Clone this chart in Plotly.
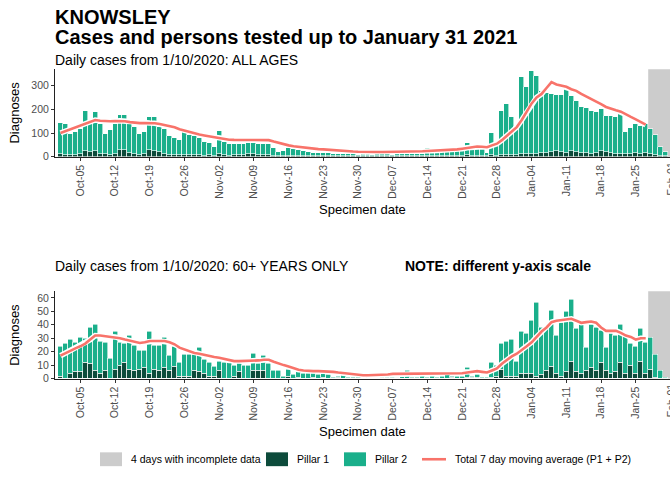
import pandas as pd
import plotly.graph_objects as go

# ---------------- data ----------------
dates = pd.date_range("2020-10-01", "2021-01-31", freq="D")

top_pillar1 = [10, 8, 6, 8, 10, 22, 20, 24, 12, 10,
               8, 12, 28, 26, 14, 12, 8, 10, 28, 24,
               18, 12, 8, 6, 5, 8, 6, 7, 5, 4,
               5, 3, 10, 5, 4, 6, 5, 8, 10, 9,
               8, 7, 6, 3, 2, 2, 4, 3, 3, 2,
               2, 1, 2, 2, 1, 1, 1, 1, 1, 1,
               1, 2, 1, 1, 2, 1, 2, 1, 1, 2,
               1, 1, 2, 1, 2, 1, 2, 2, 2, 3,
               3, 4, 5, 3, 4, 3, 2, 5, 4, 6,
               5, 7, 6, 9, 10, 12, 10, 14, 16, 20,
               22, 18, 15, 24, 20, 16, 14, 12, 15, 22,
               18, 14, 12, 13, 10, 12, 15, 12, 14, 10,
               6, 3, 1]
top_pillar2 = [132, 130, 91, 96, 105, 169, 116, 166, 124, 87,
               103, 126, 148, 150, 122, 112, 89, 94, 141, 142,
               106, 106, 78, 74, 64, 96, 84, 79, 75, 58,
               53, 38, 96, 57, 51, 47, 48, 47, 49, 49,
               45, 46, 47, 32, 19, 23, 31, 27, 25, 23,
               19, 13, 15, 15, 14, 11, 12, 9, 10, 8,
               7, 8, 8, 7, 8, 8, 9, 7, 9, 9,
               9, 11, 11, 11, 35, 16, 14, 17, 18, 15,
               21, 26, 51, 32, 35, 27, 12, 95, 51, 188,
               216, 159, 122, 326, 283, 350, 329, 261, 254, 245,
               240, 240, 285, 231, 215, 194, 193, 182, 172, 178,
               155, 159, 157, 165, 95, 110, 123, 116, 124, 105,
               84, 37, 19]
top_avg7 = [100, 108, 116, 122, 130, 140, 148, 155, 152, 150,
            150, 151, 152, 150, 146, 143, 142, 142, 142, 141,
            138, 134, 128, 124, 116, 110, 103, 98, 94, 90,
            86, 82, 79, 75, 72, 71, 71, 72, 73, 73,
            72, 71, 70, 64, 58, 52, 48, 44, 41, 38,
            36, 34, 32, 31, 30, 28, 26, 24, 23, 22,
            21, 20, 20, 20, 20, 20, 20, 20, 20, 21,
            21, 22, 22, 23, 24, 25, 26, 27, 28, 29,
            31, 34, 38, 41, 43, 42, 40, 48, 55, 70,
            88, 108, 125, 155, 190, 225, 250, 265, 290, 315,
            305, 300, 295, 285, 278, 265, 255, 243, 232, 222,
            210, 202, 196, 190, 178, 168, 158, 148, 135]

old_pillar1 = [2, 0, 4, 5, 5, 12, 11, 6, 4, 6,
               0, 7, 10, 12, 7, 6, 7, 8, 4, 7,
               6, 8, 6, 9, 2, 2, 2, 6, 5, 4,
               2, 2, 6, 0, 0, 2, 5, 0, 0, 6,
               6, 6, 0, 0, 0, 0, 2, 0, 1, 0,
               0, 1, 0, 1, 0, 0, 1, 0, 0, 0,
               0, 0, 0, 0, 0, 0, 0, 0, 1, 0,
               0, 0, 0, 0, 0, 0, 0, 0, 0, 1,
               0, 0, 1, 1, 1, 0, 0, 1, 2, 7,
               2, 2, 2, 4, 4, 4, 2, 3, 6, 9,
               4, 2, 5, 13, 5, 4, 6, 8, 6, 12,
               6, 4, 5, 12, 4, 10, 4, 13, 4, 7,
               1, 0, 0]
old_pillar2 = [22, 26, 25, 22, 26, 18, 27, 34, 24, 21,
               15, 28, 17, 14, 25, 19, 14, 13, 31, 18,
               19, 23, 11, 15, 10, 16, 16, 12, 18, 10,
               10, 7, 7, 12, 12, 8, 6, 10, 10, 13,
               5, 11, 11, 6, 6, 2, 5, 3, 4, 4,
               4, 3, 3, 4, 3, 1, 1, 3, 1, 1,
               1, 0, 1, 1, 0, 1, 1, 1, 0, 2,
               6, 1, 1, 2, 1, 2, 1, 2, 6, 1,
               2, 2, 7, 1, 2, 1, 1, 11, 8, 19,
               26, 27, 11, 31, 30, 39, 55, 35, 33, 42,
               28, 40, 45, 46, 32, 39, 17, 32, 32, 24,
               17, 30, 27, 28, 28, 16, 20, 24, 23, 24,
               17, 6, 1]
old_avg7 = [17, 19, 21, 22.5, 24, 26, 29, 32, 32, 31.5,
            31, 31, 30, 29, 28, 27, 26.5, 27, 28, 28,
            28, 28, 27, 25.5, 23, 21.5, 20.5, 19, 18.5, 17.5,
            17, 16, 15.5, 14.5, 13.5, 13, 13, 13, 13, 13,
            13.5, 14, 14, 12.5, 11, 10, 9, 7.5, 6.5, 6,
            5.5, 5.5, 5.5, 5.5, 5.5, 5, 4.5, 4, 3.5, 3,
            2.5, 2.5, 2.5, 2.5, 2.5, 3, 3, 3.5, 3.5, 3.5,
            3.5, 3.5, 3.5, 4, 4, 4, 4, 4, 4, 4,
            4, 4, 4.5, 5, 5.5, 5, 4.5, 6, 7.5, 11,
            14, 16.5, 18.5, 21, 24, 27, 31, 35, 38, 42,
            43, 43.5, 44, 44.5, 43, 41.5, 42, 42.5, 41.5, 38,
            35.5, 35.5, 35.5, 34, 32, 31, 29, 30, 30]

top_yticks = [0, 100, 200, 300]
old_yticks = [0, 10, 20, 30, 40, 50, 60]
incomplete_start = "2021-01-27 12:00"

# ---------------- style ----------------
FONT = "Liberation Sans, Arial, sans-serif"
C_P1 = "#0D4B3B"
C_P2 = "#1AAF8B"
C_AVG = "#F8736A"
C_GREY = "#CCCCCC"
TICK_C = "#4D4D4D"

W, H = 670, 485
L = 55

def py(px):
    return 1 - px / H

def pxx(px):
    return (px - L) / (W - L)

avg_dates = dates[:len(top_avg7)]

fig = go.Figure()

for (xa, ya, p1, p2, avg) in [("x", "y", top_pillar1, top_pillar2, top_avg7),
                              ("x2", "y2", old_pillar1, old_pillar2, old_avg7)]:
    fig.add_trace(go.Bar(x=dates, y=p1, xaxis=xa, yaxis=ya, marker_color=C_P1,
                         marker_line_color="white", marker_line_width=0.6,
                         showlegend=False, name="Pillar 1"))
    fig.add_trace(go.Bar(x=dates, y=p2, xaxis=xa, yaxis=ya, marker_color=C_P2,
                         marker_line_color="white", marker_line_width=0.6,
                         showlegend=False, name="Pillar 2"))
    fig.add_trace(go.Scatter(x=avg_dates, y=avg, xaxis=xa, yaxis=ya, mode="lines",
                             line=dict(color="white", width=5.5), showlegend=False,
                             hoverinfo="skip"))
    fig.add_trace(go.Scatter(x=avg_dates, y=avg, xaxis=xa, yaxis=ya, mode="lines",
                             line=dict(color=C_AVG, width=2.6), showlegend=False,
                             name="Total 7 day moving average (P1 + P2)"))

x_range = ["2020-09-29 21:30", "2021-01-31 21:30"]
xcommon = dict(type="date", range=x_range, tickformat="%b-%d", dtick=7 * 86400000,
               tick0="2020-10-05", tickangle=-90, ticks="outside", ticklen=3,
               tickcolor="#333333", showline=True, linecolor="#222222", linewidth=1,
               showgrid=False, zeroline=False,
               tickfont=dict(family=FONT, size=10.5, color=TICK_C))
ycommon = dict(ticks="outside", ticklen=3, tickcolor="#333333", showline=True,
               linecolor="#222222", linewidth=1, showgrid=False, zeroline=False,
               tickfont=dict(family=FONT, size=10.5, color=TICK_C), fixedrange=True)

fig.update_layout(
    width=W, height=H, autosize=False,
    margin=dict(l=L, r=0, t=0, b=0, pad=0),
    paper_bgcolor="white", plot_bgcolor="white",
    barmode="stack", bargap=0,
    font=dict(family=FONT, color="black"),
    xaxis=dict(domain=[0, 1], anchor="y", **xcommon),
    xaxis2=dict(domain=[0, 1], anchor="y2", **xcommon),
    yaxis=dict(domain=[py(158.7), py(70)], anchor="x", range=[0, 369.6],
               tickvals=top_yticks, **ycommon),
    yaxis2=dict(domain=[py(383.3), py(295)], anchor="x2", range=[0, 64.9],
                tickvals=old_yticks, **ycommon),
)

# incomplete-data shading
for xr, yr in [("x", "y"), ("x2", "y2")]:
    fig.add_shape(type="rect", xref=xr, yref=yr + " domain", x0=incomplete_start,
                  x1="2021-02-02", y0=0, y1=1, fillcolor=C_GREY, line_width=0,
                  layer="below")

ann = []
def text(x, y, s, size, bold=False, xanchor="left", yanchor="middle", angle=0, color="black"):
    ann.append(dict(xref="paper", yref="paper", x=x, y=y, text=("<b>%s</b>" % s) if bold else s,
                    showarrow=False, xanchor=xanchor, yanchor=yanchor, textangle=angle,
                    font=dict(family=FONT, size=size, color=color)))

text(pxx(53), py(17), "KNOWSLEY", 20, bold=True)
text(pxx(53), py(37), "Cases and persons tested up to January 31 2021", 20, bold=True)
text(pxx(53), py(61), "Daily cases from 1/10/2020: ALL AGES", 14)
text(pxx(53), py(269), "Daily cases from 1/10/2020: 60+ YEARS ONLY", 14)
text(pxx(403), py(269), "NOTE: different y-axis scale", 14, bold=True)
text(pxx(15), py(114), "Diagnoses", 13, xanchor="center", angle=-90)
text(pxx(15), py(339), "Diagnoses", 13, xanchor="center", angle=-90)
text(pxx(362), py(212), "Specimen date", 13, xanchor="center")
text(pxx(362), py(437), "Specimen date", 13, xanchor="center")
# partially visible last tick label (cut by the right edge, as in the reference)
text(pxx(671), py(163), "Feb-01", 10.5, xanchor="center", yanchor="top", angle=-90, color=TICK_C)
text(pxx(671), py(387.5), "Feb-01", 10.5, xanchor="center", yanchor="top", angle=-90, color=TICK_C)

# manual legend
ly0, ly1 = py(472), py(458)
fig.add_shape(type="rect", xref="paper", yref="paper", x0=pxx(100), x1=pxx(122), y0=ly0, y1=ly1,
              fillcolor=C_GREY, line_width=0)
fig.add_shape(type="rect", xref="paper", yref="paper", x0=pxx(266), x1=pxx(288), y0=ly0, y1=ly1,
              fillcolor=C_P1, line_width=0)
fig.add_shape(type="rect", xref="paper", yref="paper", x0=pxx(344), x1=pxx(366), y0=ly0, y1=ly1,
              fillcolor=C_P2, line_width=0)
fig.add_shape(type="line", xref="paper", yref="paper", x0=pxx(422), x1=pxx(446), y0=py(465), y1=py(465),
              line=dict(color=C_AVG, width=2.6))
text(pxx(129), py(465), "4 days with incomplete data", 10.5)
text(pxx(295), py(465), "Pillar 1", 10.5)
text(pxx(373), py(465), "Pillar 2", 10.5)
text(pxx(453), py(465), "Total 7 day moving average (P1 + P2)", 10.5)

fig.update_layout(annotations=ann)
fig.write_html("out.html", config={"displayModeBar": False},
               post_script="document.body.style.margin='0';document.body.style.overflow='hidden';")
